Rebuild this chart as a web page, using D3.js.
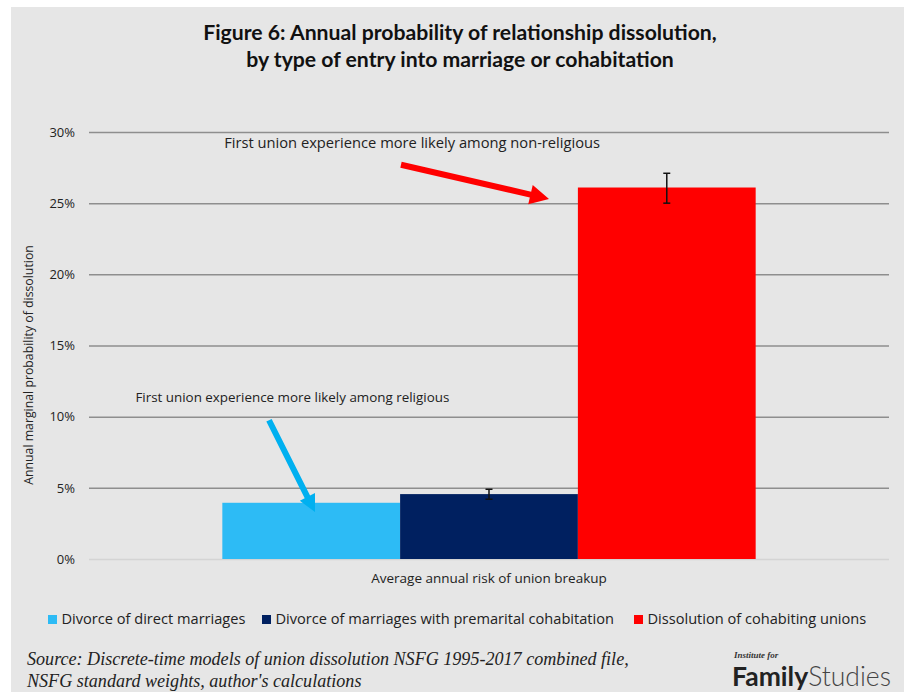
<!DOCTYPE html>
<html>
<head>
<meta charset="utf-8">
<script src="https://cdn.jsdelivr.net/npm/d3@7"></script>
<style>
	html, body { margin: 0; padding: 0; background: #ffffff; }
	svg { display: block; }
</style>
</head>
<body>
<div id="chart"></div>
<script>

// chart data
const categories = ["Average annual risk of union breakup"];
const seriesNames = ["Divorce of direct marriages", "Divorce of marriages with premarital cohabitation", "Dissolution of cohabiting unions"];
const seriesValues = [0.0395, 0.0456, 0.261];
const errorLow = [null, 0.042, 0.250];
const errorHigh = [null, 0.049, 0.271];
const seriesColors = ["#2dbbf5", "#002060", "#ff0000"];
const yTicks = [0, 0.05, 0.10, 0.15, 0.20, 0.25, 0.30];

const annotationTexts = ["First union experience more likely among non-religious", "First union experience more likely among religious"];

let width = 904,
	height = 692;

let margin = {left: 89, right: 15, top: 132, bottom: 133};

let bodyFont = "'Open Sans', Lato, sans-serif";

let svg = d3.select("#chart")
	.append("svg")
		.attr("width", width)
		.attr("height", height);

// gray panel
svg.append("rect")
	.attr("x", 11)
	.attr("y", 7)
	.attr("width", width - 11)
	.attr("height", height - 7)
	.attr("fill", "#e6e6e6");

let y = d3.scaleLinear()
	.domain([0, 0.30])
	.range([height - margin.bottom, margin.top]);

let x0 = d3.scaleBand()
	.domain(categories)
	.range([margin.left, width - margin.right])
	.paddingInner(0)
	.paddingOuter(0.25);

let x1 = d3.scaleBand()
	.domain(seriesNames)
	.range([0, x0.bandwidth()])
	.padding(0);

// title
let title = svg.append("text")
	.attr("x", 460)
	.attr("text-anchor", "middle")
	.style("font-family", "Lato, 'Open Sans', sans-serif")
	.style("font-weight", "bold")
	.style("font-size", "21.2px")
	.attr("fill", "#111");
title.append("tspan").attr("x", 460).attr("y", 40).text("Figure 6: Annual probability of relationship dissolution,");
title.append("tspan").attr("x", 460).attr("y", 67).text("by type of entry into marriage or cohabitation");

// grid + y axis
let yAxis = d3.axisLeft(y)
	.tickValues(yTicks)
	.tickFormat(d3.format(".0%"))
	.tickSize(-(width - margin.left - margin.right))
	.tickPadding(14);

let gy = svg.append("g")
	.attr("transform", "translate(" + margin.left + ",0)")
	.call(yAxis);

gy.select(".domain").remove();
gy.selectAll(".tick line")
	.attr("stroke", function(d) { return d === 0 ? "#d4d4d4" : "#8e8e8e"; })
	.attr("stroke-width", 1.5);
gy.selectAll(".tick text")
	.style("font-family", bodyFont)
	.style("font-size", "13px")
	.attr("fill", "#222");

// y axis title
svg.append("text")
	.attr("transform", "translate(33,365) rotate(-90)")
	.attr("text-anchor", "middle")
	.style("font-family", bodyFont)
	.style("font-size", "12.3px")
	.attr("fill", "#222")
	.text("Annual marginal probability of dissolution");

// bars
let group = svg.selectAll(".cat")
	.data(categories)
	.enter()
	.append("g")
	.attr("class", "cat")
	.attr("transform", function(d) { return "translate(" + x0(d) + ",0)"; });

group.selectAll("rect")
	.data(seriesNames.map(function(s, i) { return {name: s, value: seriesValues[i], color: seriesColors[i]}; }))
	.enter()
	.append("rect")
	.attr("x", function(d) { return x1(d.name); })
	.attr("y", function(d) { return y(d.value); })
	.attr("width", x1.bandwidth())
	.attr("height", function(d) { return y(0) - y(d.value); })
	.attr("fill", function(d) { return d.color; });

// error bars
let errData = seriesNames.map(function(s, i) { return {name: s, lo: errorLow[i], hi: errorHigh[i]}; })
	.filter(function(d) { return d.lo !== null; });

let eb = group.selectAll(".err")
	.data(errData)
	.enter()
	.append("g")
	.attr("class", "err")
	.attr("stroke", "#111")
	.attr("stroke-width", 1.5);

eb.append("line")
	.attr("x1", function(d) { return x1(d.name) + x1.bandwidth() / 2; })
	.attr("x2", function(d) { return x1(d.name) + x1.bandwidth() / 2; })
	.attr("y1", function(d) { return y(d.lo); })
	.attr("y2", function(d) { return y(d.hi); });
eb.selectAll(".cap")
	.data(function(d) { return [{name: d.name, v: d.lo}, {name: d.name, v: d.hi}]; })
	.enter()
	.append("line")
	.attr("x1", function(d) { return x1(d.name) + x1.bandwidth() / 2 - 3.5; })
	.attr("x2", function(d) { return x1(d.name) + x1.bandwidth() / 2 + 3.5; })
	.attr("y1", function(d) { return y(d.v); })
	.attr("y2", function(d) { return y(d.v); });

// x category label
svg.selectAll(".xlabel")
	.data(categories)
	.enter()
	.append("text")
	.attr("x", function(d) { return x0(d) + x0.bandwidth() / 2; })
	.attr("y", 583)
	.attr("text-anchor", "middle")
	.style("font-family", bodyFont)
	.style("font-size", "13.5px")
	.attr("fill", "#222")
	.text(function(d) { return d; });

// annotations: text + arrows (positions as fraction of plot width, value on y)
let px = d3.scaleLinear().domain([0, 1]).range([margin.left, width - margin.right]);

let notes = [
	{text: annotationTexts[0], size: 14.7, tx: 0.169, ty: 0.2885, from: [0.39, 0.277], to: [0.575, 0.253], color: "#ff0000", shaft: 6, headL: 19, headW: 20},
	{text: annotationTexts[1], size: 13.4, tx: 0.058, ty: 0.110, from: [0.225, 0.0975], to: [0.2825, 0.033], color: "#00b0f0", shaft: 6, headL: 17, headW: 17}
];

svg.selectAll(".note")
	.data(notes)
	.enter()
	.append("text")
	.attr("class", "note")
	.attr("x", function(d) { return px(d.tx); })
	.attr("y", function(d) { return y(d.ty); })
	.style("font-family", bodyFont)
	.style("font-size", function(d) { return d.size + "px"; })
	.attr("fill", "#222")
	.text(function(d) { return d.text; });

function arrowPath(d)
{
	let x1p = px(d.from[0]), y1p = y(d.from[1]);
	let x2p = px(d.to[0]), y2p = y(d.to[1]);
	let dx = x2p - x1p, dy = y2p - y1p;
	let len = Math.sqrt(dx * dx + dy * dy);
	let ux = dx / len, uy = dy / len;
	let nx = -uy, ny = ux;
	let bx = x2p - ux * d.headL, by = y2p - uy * d.headL;
	let s = d.shaft / 2, h = d.headW / 2;
	let pts = [
		[x1p + nx * s, y1p + ny * s],
		[bx + nx * s, by + ny * s],
		[bx + nx * h, by + ny * h],
		[x2p, y2p],
		[bx - nx * h, by - ny * h],
		[bx - nx * s, by - ny * s],
		[x1p - nx * s, y1p - ny * s]
	];
	return d3.line()(pts) + "Z";
}

svg.selectAll(".arrow")
	.data(notes)
	.enter()
	.append("path")
	.attr("class", "arrow")
	.attr("d", arrowPath)
	.attr("fill", function(d) { return d.color; });

// legend
let legendX = [48, 262, 634];
let legend = svg.selectAll(".legend")
	.data(seriesNames)
	.enter()
	.append("g")
	.attr("class", "legend")
	.attr("transform", function(d, i) { return "translate(" + legendX[i] + ",619.5)"; });

legend.append("rect")
	.attr("x", 0)
	.attr("y", -4.5)
	.attr("width", 9)
	.attr("height", 9)
	.attr("fill", function(d, i) { return seriesColors[i]; });

legend.append("text")
	.attr("x", 13.5)
	.attr("y", 4.8)
	.style("font-family", bodyFont)
	.style("font-size", "14.6px")
	.attr("fill", "#222")
	.text(function(d) { return d; });

// source note
let src = svg.append("text")
	.style("font-family", "'Liberation Serif', 'Times New Roman', serif")
	.style("font-style", "italic")
	.style("font-size", "18.1px")
	.attr("fill", "#222");
src.append("tspan").attr("x", 27).attr("y", 665).text("Source: Discrete-time models of union dissolution NSFG 1995-2017 combined file,");
src.append("tspan").attr("x", 27).attr("y", 687).text("NSFG standard weights, author's calculations");

// logo
svg.append("text")
	.attr("x", 734)
	.attr("y", 658)
	.style("font-family", "'Liberation Serif', serif")
	.style("font-style", "italic")
	.style("font-weight", "bold")
	.style("font-size", "9px")
	.attr("fill", "#333")
	.text("Institute for");

let logo = svg.append("text")
	.attr("x", 732)
	.attr("y", 686)
	.style("font-family", "Lato, sans-serif")
	.style("font-size", "26.5px")
	.attr("fill", "#222");
logo.append("tspan").style("font-weight", "bold").text("Family");
logo.append("tspan").style("font-weight", "300").attr("fill", "#444").text("Studies");

</script>
</body>
</html>
